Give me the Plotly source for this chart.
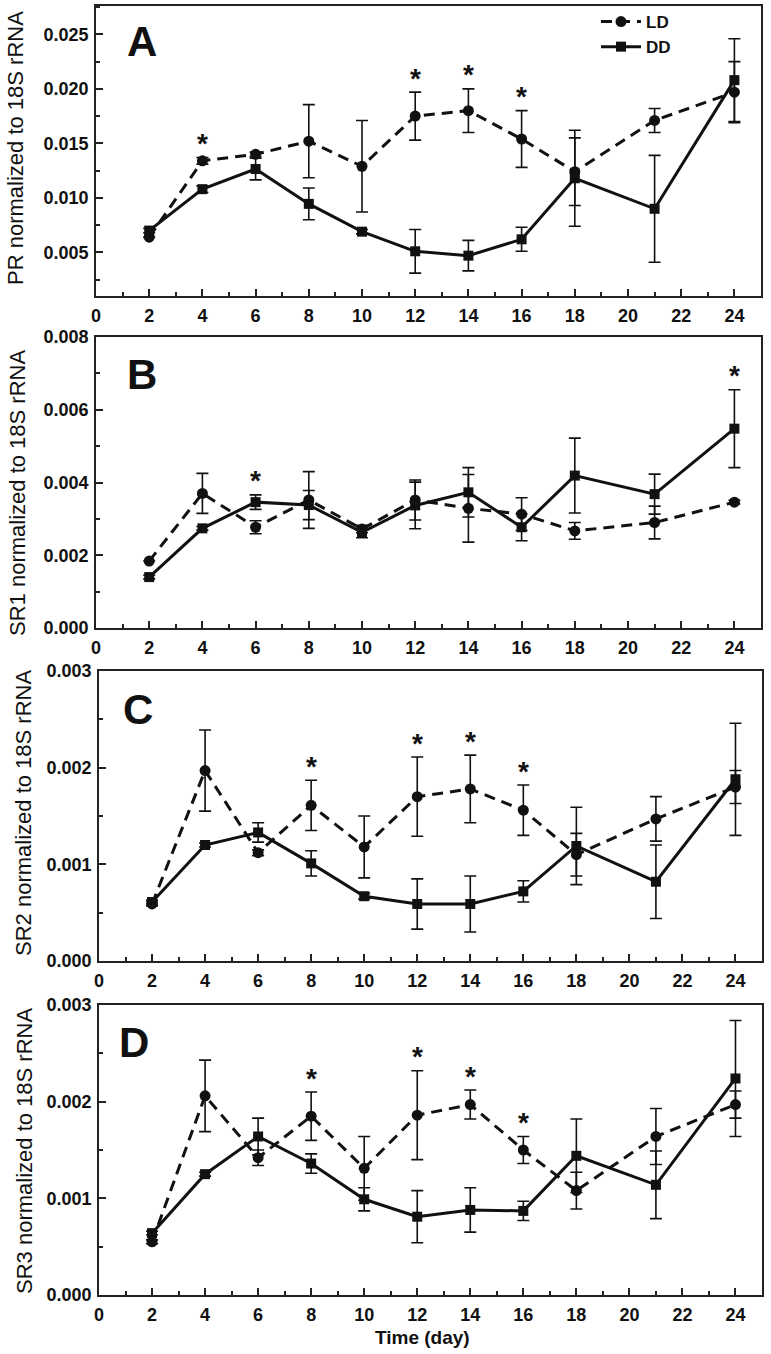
import plotly.graph_objects as go

# ---------------- data ----------------
days = [2, 4, 6, 8, 10, 12, 14, 16, 18, 21, 24]

pr_ld = [0.0064, 0.0134, 0.0140, 0.0152, 0.0129, 0.0175, 0.0180, 0.0154, 0.0124, 0.0171, 0.0197]
pr_ld_err = [0.0000, 0.0003, 0.0002, 0.00335, 0.0042, 0.0022, 0.0020, 0.0026, 0.0031, 0.0011, 0.0028]
pr_dd = [0.0070, 0.0108, 0.01265, 0.00945, 0.0069, 0.0051, 0.0047, 0.0062, 0.0118, 0.0090, 0.0208]
pr_dd_err = [0.0002, 0.0003, 0.0010, 0.00145, 0.0002, 0.0020, 0.0014, 0.0011, 0.0044, 0.0049, 0.0038]
pr_sig = [4, 12, 14, 16]

sr1_ld = [0.00184, 0.0037, 0.00277, 0.00352, 0.00272, 0.00352, 0.00329, 0.00313, 0.00267, 0.0029, 0.00346]
sr1_ld_err = [0.0, 0.00055, 0.00018, 0.00078, 0.0001, 0.00055, 0.00093, 0.00045, 0.00023, 0.00045, 0.00005]
sr1_dd = [0.0014, 0.00274, 0.00346, 0.00338, 0.00263, 0.00337, 0.00373, 0.00277, 0.00419, 0.00368, 0.00548]
sr1_dd_err = [0.00005, 0.00005, 0.0002, 0.0004, 0.00015, 0.00064, 0.00068, 0.00037, 0.00103, 0.00055, 0.00107]
sr1_sig = [6, 24]

sr2_ld = [0.00059, 0.00197, 0.00112, 0.00161, 0.00118, 0.0017, 0.00178, 0.00156, 0.0011, 0.00147, 0.0018]
sr2_ld_err = [0.00002, 0.00042, 0.00003, 0.00026, 0.00032, 0.00041, 0.00035, 0.00026, 0.00022, 0.00023, 0.00017]
sr2_dd = [0.00061, 0.0012, 0.00133, 0.00101, 0.00067, 0.00059, 0.00059, 0.00072, 0.00119, 0.00082, 0.00188]
sr2_dd_err = [0.00002, 0.00002, 0.0001, 0.00013, 0.00003, 0.00026, 0.00029, 0.00011, 0.0004, 0.00038, 0.00058]
sr2_sig = [8, 12, 14, 16]

sr3_ld = [0.00055, 0.00206, 0.00142, 0.00185, 0.00131, 0.00186, 0.00197, 0.0015, 0.00108, 0.00164, 0.00197]
sr3_ld_err = [0.00002, 0.00037, 0.00008, 0.00025, 0.00033, 0.00046, 0.00015, 0.00014, 0.00019, 0.00029, 0.00014]
sr3_dd = [0.00064, 0.00125, 0.00164, 0.00136, 0.00099, 0.00081, 0.00088, 0.00087, 0.00144, 0.00114, 0.00224]
sr3_dd_err = [0.00002, 0.00002, 0.00019, 0.0001, 0.00012, 0.00027, 0.00023, 0.0001, 0.00038, 0.00035, 0.0006]
sr3_sig = [8, 12, 14, 16]

panel_letters = ["A", "B", "C", "D"]
y_titles = ["PR normalized to 18S rRNA", "SR1 normalized to 18S rRNA",
            "SR2 normalized to 18S rRNA", "SR3 normalized to 18S rRNA"]
x_title = "Time (day)"
series_names = ["LD", "DD"]

# ---------------- layout geometry ----------------
W, H = 771, 1354
FONT = "Arial, Liberation Sans, sans-serif"
INK = "#111111"
AX = "#222222"

def px_x(p):
    return p / W

def px_y(p):
    return 1 - p / H

panels = [
    dict(ld=pr_ld, lde=pr_ld_err, dd=pr_dd, dde=pr_dd_err, sig=pr_sig,
         yr=[0.001, 0.0276], dt=0.005, mdt=0.0025,
         box=(96, 761, 6, 296), letter=(142, 42), ytit=(16, 148)),
    dict(ld=sr1_ld, lde=sr1_ld_err, dd=sr1_dd, dde=sr1_dd_err, sig=sr1_sig,
         yr=[0, 0.008], dt=0.002, mdt=0.001,
         box=(96, 761, 337, 628), letter=(142, 375), ytit=(17, 493)),
    dict(ld=sr2_ld, lde=sr2_ld_err, dd=sr2_dd, dde=sr2_dd_err, sig=sr2_sig,
         yr=[0, 0.003], dt=0.001, mdt=0.0005,
         box=(99, 762, 671, 961), letter=(138, 709), ytit=(23, 813)),
    dict(ld=sr3_ld, lde=sr3_ld_err, dd=sr3_dd, dde=sr3_dd_err, sig=sr3_sig,
         yr=[0, 0.003], dt=0.001, mdt=0.0005,
         box=(99, 762, 1005, 1295), letter=(134, 1042), ytit=(24, 1151)),
]

fig = go.Figure()
annotations = []
layout_axes = {}

for i, p in enumerate(panels):
    n = i + 1
    xa = "x" if n == 1 else f"x{n}"
    ya = "y" if n == 1 else f"y{n}"
    x0, x1, y0, y1 = p["box"]

    fig.add_trace(go.Scatter(
        x=days, y=p["ld"], name=series_names[0], mode="lines+markers",
        xaxis=xa, yaxis=ya, showlegend=(n == 1), legendrank=1,
        line=dict(color=INK, width=3, dash="11px,7px"),
        marker=dict(symbol="circle", size=11, color=INK),
        error_y=dict(type="data", array=p["lde"], visible=True,
                     thickness=1.6, width=6, color=INK),
    ))
    fig.add_trace(go.Scatter(
        x=days, y=p["dd"], name=series_names[1], mode="lines+markers",
        xaxis=xa, yaxis=ya, showlegend=(n == 1), legendrank=2,
        line=dict(color=INK, width=3),
        marker=dict(symbol="square", size=10, color=INK),
        error_y=dict(type="data", array=p["dde"], visible=True,
                     thickness=1.6, width=6, color=INK),
    ))

    key_x = "xaxis" if n == 1 else f"xaxis{n}"
    key_y = "yaxis" if n == 1 else f"yaxis{n}"
    layout_axes[key_x] = dict(
        domain=[px_x(x0), px_x(x1)], anchor=ya, range=[0, 25],
        automargin=False,
        tickmode="linear", tick0=0, dtick=2,
        ticks="inside", ticklen=7, tickwidth=1.8, tickcolor=AX,
        ticklabelstandoff=2,
        showline=True, linewidth=1.8, linecolor=AX, mirror=True,
        showgrid=False, zeroline=False,
        tickfont=dict(family=FONT, size=18, color=INK, weight="bold"),
        minor=dict(tick0=0, dtick=1, ticks="inside", ticklen=4,
                   tickwidth=1.5, tickcolor=AX, showgrid=False),
    )
    layout_axes[key_y] = dict(
        domain=[px_y(y1), px_y(y0)], anchor=xa, range=p["yr"],
        automargin=False,
        tickmode="linear", tick0=0, dtick=p["dt"], tickformat=".3f",
        ticks="inside", ticklen=7, tickwidth=1.8, tickcolor=AX,
        ticklabelstandoff=2,
        showline=True, linewidth=1.8, linecolor=AX, mirror=True,
        showgrid=False, zeroline=False,
        tickfont=dict(family=FONT, size=18, color=INK, weight="bold"),
        minor=dict(tick0=0, dtick=p["mdt"], ticks="inside", ticklen=4,
                   tickwidth=1.5, tickcolor=AX, showgrid=False),
    )

    # panel letter
    lx, ly = p["letter"]
    annotations.append(dict(
        text=panel_letters[i], xref="paper", yref="paper",
        x=px_x(lx), y=px_y(ly), xanchor="center", yanchor="middle",
        showarrow=False,
        font=dict(family=FONT, size=42, color=INK, weight="bold")))

    # y title
    tx, ty = p["ytit"]
    annotations.append(dict(
        text=y_titles[i], xref="paper", yref="paper",
        x=px_x(tx), y=px_y(ty), xanchor="center", yanchor="middle",
        textangle=-90, showarrow=False,
        font=dict(family=FONT, size=22, color=INK)))

    # significance stars
    for sx in p["sig"]:
        k = days.index(sx)
        top = max(p["ld"][k] + p["lde"][k], p["dd"][k] + p["dde"][k])
        annotations.append(dict(
            text="*", xref=xa, yref=ya, x=sx, y=top,
            xanchor="center", yanchor="middle", yshift=14,
            showarrow=False,
            font=dict(family=FONT, size=28, color=INK, weight="bold")))

annotations.append(dict(
    text=x_title, xref="paper", yref="paper",
    x=px_x(422), y=px_y(1337), xanchor="center", yanchor="middle",
    showarrow=False,
    font=dict(family=FONT, size=19, color=INK, weight="bold")))

fig.update_layout(
    width=W, height=H,
    margin=dict(l=0, r=0, t=0, b=0, autoexpand=False),
    paper_bgcolor="white", plot_bgcolor="white",
    font=dict(family=FONT, color=INK),
    showlegend=True,
    legend=dict(x=px_x(596), y=px_y(4), xanchor="left", yanchor="top",
                bgcolor="rgba(0,0,0,0)", borderwidth=0,
                font=dict(family=FONT, size=17, color=INK, weight="bold"),
                tracegroupgap=0, itemwidth=40),
    annotations=annotations,
    **layout_axes,
)

fig.write_html("out.html",
               config={"displayModeBar": False},
               post_script="document.body.style.margin='0';"
                           "document.body.style.overflow='hidden';")
